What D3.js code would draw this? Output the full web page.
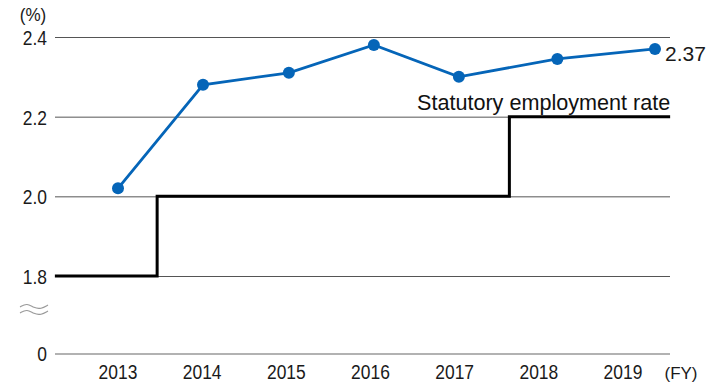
<!DOCTYPE html>
<html><head><meta charset="utf-8">
<script src="https://cdn.jsdelivr.net/npm/d3@7"></script>
<style>body{margin:0;background:#fff}svg{display:block}</style>
</head><body>
<svg id="c" width="718" height="389"></svg>
<script>
const years = ["2013","2014","2015","2016","2017","2018","2019"];
const rateValues = [2.02, 2.28, 2.31, 2.38, 2.30, 2.345, 2.37];
const ratePos = [0, 1.01, 2.03, 3.04, 4.05, 5.22, 6.38];   // horizontal position in year units
const statutoryPos = [-0.75, 0.465, 0.465, 4.65, 4.65, 6.56];
const statutoryValues = [1.8, 1.8, 2.0, 2.0, 2.2, 2.2];
const yTicks = [1.8, 2.0, 2.2, 2.4];
const yTickLabels = ["1.8", "2.0", "2.2", "2.4"];
const lastLabel = "2.37";
const seriesLabel = "Statutory employment rate";

const svg = d3.select("#c");
const font = "'Liberation Sans',Arial,sans-serif";
const x = d3.scaleLinear().domain([0, 6]).range([118, 623]);
const y = d3.scaleLinear().domain([1.8, 2.4]).range([276, 37]);
const yZero = 354;
const left = 55, right = 670;
const SX = 0.85;

function label(g, tx, ty, txt, size, anchor, sx) {
  return g.append("text")
    .attr("transform", `translate(${tx},${ty}) scale(${sx},1)`)
    .attr("text-anchor", anchor).attr("font-family", font)
    .attr("font-size", size).attr("fill", "#1a1a1a").text(txt);
}

// gridlines
svg.append("g").selectAll("line").data(yTicks).join("line")
  .attr("x1", left).attr("x2", right)
  .attr("y1", d => y(d) + 0.5).attr("y2", d => y(d) + 0.5)
  .attr("stroke", "#555").attr("stroke-width", 1);
svg.append("line").attr("x1", left).attr("x2", right)
  .attr("y1", yZero).attr("y2", yZero).attr("stroke", "#999").attr("stroke-width", 1.5);

// y labels
yTicks.forEach((d, i) => label(svg, 47, y(d) + 8, yTickLabels[i], 20.5, "end", SX));
label(svg, 47, yZero + 7, "0", 20.5, "end", SX);
label(svg, 33, 21, "(%)", 18, "middle", 0.95);

// break mark
const wave = d3.line().curve(d3.curveBasis);
[306, 312].forEach(yy => {
  svg.append("path")
    .attr("d", wave([[20, yy + 1], [27, yy - 3], [34, yy + 2], [41, yy + 3], [48, yy - 1]]))
    .attr("fill", "none").attr("stroke", "#999").attr("stroke-width", 1.1);
});

// x labels
years.forEach((d, i) => label(svg, x(i), 379, d, 20.5, "middle", SX));
label(svg, 681, 379, "(FY)", 17, "middle", 1);

// statutory step line
const line = d3.line().x(d => x(d[0])).y(d => y(d[1]));
svg.append("path").datum(statutoryPos.map((p, i) => [p, statutoryValues[i]]))
  .attr("d", line).attr("fill", "none").attr("stroke", "#000").attr("stroke-width", 3);
svg.append("text").attr("x", 417).attr("y", 110).attr("font-family", font)
  .attr("font-size", 21.6).attr("fill", "#111").text(seriesLabel);

// rate line
const blue = "#0565b8";
const rateData = ratePos.map((p, i) => [p, rateValues[i]]);
svg.append("path").datum(rateData).attr("d", line)
  .attr("fill", "none").attr("stroke", blue).attr("stroke-width", 2.8);
svg.append("g").selectAll("circle").data(rateData).join("circle")
  .attr("cx", d => x(d[0])).attr("cy", d => y(d[1])).attr("r", 6).attr("fill", blue);
label(svg, 665, 61, lastLabel, 21, "start", 1);
</script>
</body></html>
